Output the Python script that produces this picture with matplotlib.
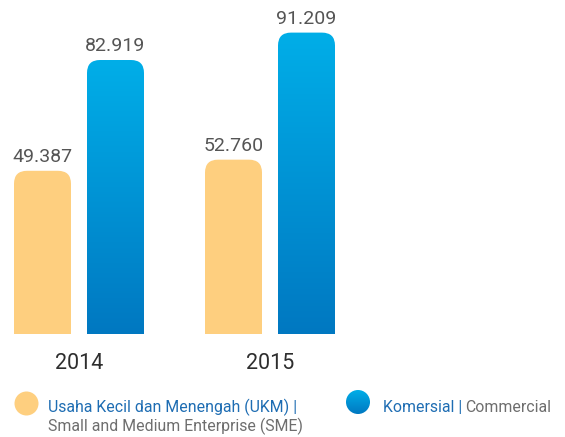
import numpy as np
import matplotlib
matplotlib.use("Agg")
import matplotlib.pyplot as plt
from matplotlib.path import Path
from matplotlib.patches import PathPatch, Circle
from matplotlib.colors import LinearSegmentedColormap

years = ["2014", "2015"]
sme = [49.387, 52.760]
commercial = [82.919, 91.209]
value_labels_sme = ["49.387", "52.760"]
value_labels_com = ["82.919", "91.209"]
legend_sme_id = "Usaha Kecil dan Menengah (UKM) |"
legend_sme_en = "Small and Medium Enterprise (SME)"
legend_com_id = "Komersial"
legend_com_en = "Commercial"

W, H = 565, 437
fig = plt.figure(figsize=(W / 100, H / 100), dpi=100)
fig.patch.set_facecolor("white")

FONT = "Roboto"
YELLOW = "#FECF7F"
BLUE_TOP = "#00AEE8"
BLUE_BOT = "#0078C1"
blue_cmap = LinearSegmentedColormap.from_list("b", [BLUE_BOT, BLUE_TOP])

# bar axes: bottom at pixel 334
bottom_px = 334
ax = fig.add_axes([0, (H - bottom_px) / H, 1, bottom_px / H])
ax.axis("off")
spacing = 191.0
x_left = -79.0 / spacing
x_right = (W - 79.0) / spacing
ax.set_xlim(x_left, x_right)
px_per_unit = 274 / 82.919
ymax = bottom_px / px_per_unit
ax.set_ylim(0, ymax)

bw = 57 / spacing
off = 36.5 / spacing
r_px = 13
rx = r_px / spacing
ry = r_px / px_per_unit


def rounded_top(x0, x1, h):
    verts = [(x0, 0), (x0, h - ry), (x0, h), (x0 + rx, h), (x1 - rx, h),
             (x1, h), (x1, h - ry), (x1, 0), (x0, 0)]
    codes = [Path.MOVETO, Path.LINETO, Path.CURVE3, Path.CURVE3, Path.LINETO,
             Path.CURVE3, Path.CURVE3, Path.LINETO, Path.CLOSEPOLY]
    return Path(verts, codes)


VAL_COLOR = "#555555"
grad = np.linspace(0, 1, 256).reshape(-1, 1)
for i, yr in enumerate(years):
    # SME bar
    x0 = i - off - bw / 2
    p = PathPatch(rounded_top(x0, x0 + bw, sme[i]), facecolor=YELLOW,
                  edgecolor="none")
    ax.add_patch(p)
    ax.annotate(value_labels_sme[i], (i - off, sme[i]), xytext=(0, 3.5),
                textcoords="offset points", ha="center", va="bottom",
                fontsize=14, color=VAL_COLOR, family=FONT)
    # Commercial bar
    x0 = i + off - bw / 2
    p = PathPatch(rounded_top(x0, x0 + bw, commercial[i]), facecolor="none",
                  edgecolor="none")
    ax.add_patch(p)
    im = ax.imshow(grad, cmap=blue_cmap, origin="lower", aspect="auto",
                   extent=[x0, x0 + bw, 0, commercial[i]], interpolation="bilinear")
    im.set_clip_path(p)
    ax.annotate(value_labels_com[i], (i + off, commercial[i]), xytext=(0, 3.5),
                textcoords="offset points", ha="center", va="bottom",
                fontsize=14, color=VAL_COLOR, family=FONT)
    ax.text(i, -35 / px_per_unit, yr, ha="center", va="baseline", fontsize=15.5,
            color="#2E2E2E", family=FONT, clip_on=False)
ax.set_xlim(x_left, x_right)
ax.set_ylim(0, ymax)

# legend axes in pixel coordinates
lax = fig.add_axes([0, 0, 1, 1], zorder=-1)
lax.set_xlim(0, W)
lax.set_ylim(H, 0)
lax.axis("off")
lax.add_patch(Circle((26.5, 403.5), 12, facecolor=YELLOW, edgecolor="none"))
c2 = Circle((358, 402), 12, facecolor="none", edgecolor="none")
lax.add_patch(c2)
im2 = lax.imshow(grad[::-1], cmap=blue_cmap, origin="upper", aspect="auto",
                 extent=[346, 370, 414, 390], interpolation="bilinear")
im2.set_clip_path(c2)
lax.set_xlim(0, W)
lax.set_ylim(H, 0)

LBLUE = "#1E6DB3"
GRAY = "#6E6E6E"
LFS = 11.4
lax.text(48, 411.7, legend_sme_id, ha="left", va="baseline", fontsize=LFS,
         color=LBLUE, family=FONT)
lax.text(48, 430.7, legend_sme_en, ha="left", va="baseline", fontsize=LFS,
         color=GRAY, family=FONT)
t = lax.text(383, 411.7, legend_com_id + " |", ha="left", va="baseline",
             fontsize=LFS, color=LBLUE, family=FONT)
fig.canvas.draw()
bb = t.get_window_extent()
xend = lax.transData.inverted().transform((bb.x1, bb.y0))[0]
lax.text(xend + 3, 411.7, legend_com_en, ha="left", va="baseline",
         fontsize=LFS, color=GRAY, family=FONT)

fig.savefig("out.png", dpi=100)
